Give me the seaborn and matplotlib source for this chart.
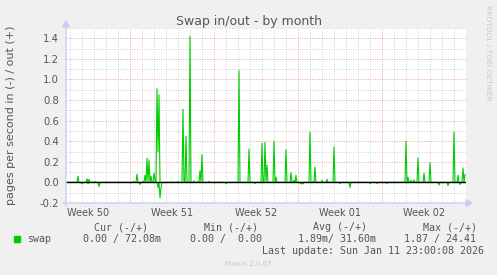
import numpy as np
import pandas as pd
import matplotlib
matplotlib.use("Agg")
import matplotlib.pyplot as plt
from matplotlib.patches import Rectangle
import seaborn as sns

# ---------------- data (hours since Mon 2025-12-15 00:00, 2-hour samples) ----
out_hours = [-104, -86, -82, -70, 8, 14, 26, 30, 34, 38, 42, 48, 50, 54, 56, 58,
             86, 96, 106, 112, 120, 128, 136, 140, 144, 158, 180, 218, 238,
             264, 270, 274, 288, 292, 312, 322, 328, 332, 360, 366, 370, 384,
             394, 408, 552, 556, 562, 568, 576, 588, 600, 648, 656, 666, 670]
out_values = [0.06, 0.035, 0.03, 0.01, 0.01, 0.08, 0.01, 0.07, 0.235, 0.22,
              0.06, 0.09, 0.02, 0.91, 0.30, 0.85,
              0.005, 0.01, 0.71, 0.45, 1.42, 0.015, 0.01, 0.115, 0.27, 0.01,
              0.005, 1.085, 0.325,
              0.38, 0.39, 0.17, 0.40, 0.05, 0.32, 0.095, 0.02, 0.07, 0.49, 0.01,
              0.15, 0.02, 0.03, 0.345, 0.40, 0.05, 0.02, 0.025, 0.24, 0.09, 0.19,
              0.49, 0.07, 0.14, 0.08]
in_hours = [-96, -84, -62, 20, 56, 60, 62, 192, 250, 342, 346, 420, 440, 480,
            494, 514, 618, 636, 660]
in_values = [0.015, 0.01, 0.04, 0.02, 0.05, 0.15, 0.05, 0.01, 0.01, 0.015,
             0.015, 0.01, 0.05, 0.01, 0.01, 0.01, 0.025, 0.03, 0.02]

week_labels = ["Week 50", "Week 51", "Week 52", "Week 01", "Week 02"]
week_starts = [-168, 0, 168, 336, 504]
y_ticks = [-0.2, 0.0, 0.2, 0.4, 0.6, 0.8, 1.0, 1.2, 1.4]
y_minor = [-0.1, 0.1, 0.3, 0.5, 0.7, 0.9, 1.1, 1.3, 1.5]

legend_headers = ["Cur (-/+)", "Min (-/+)", "Avg (-/+)", "Max (-/+)"]
legend_values = ["0.00 / 72.08m", "0.00 /  0.00", "1.89m/ 31.60m", "1.87 / 24.41"]

# ---------------- build series ----------------
x_start, x_end = -128, 672
sample_hours = np.arange(x_start, x_end, 2)
s_out = pd.Series(0.0, index=sample_hours)
s_out.loc[out_hours] = out_values
s_in = pd.Series(0.0, index=sample_hours)
s_in.loc[in_hours] = in_values
df = pd.concat([
    pd.DataFrame({"hours": sample_hours, "value": s_out.values, "dir": "out"}),
    pd.DataFrame({"hours": sample_hours, "value": -s_in.values, "dir": "in"}),
])

GREEN = "#00CC00"
TXT = "#555555"
W, H = 497, 275

sns.set_theme(style="white")
plt.rcParams["font.family"] = ["DejaVu Sans"]

fig = plt.figure(figsize=(W / 100, H / 100), dpi=100)
fig.patch.set_facecolor("#F0F0F0")
ax = fig.add_axes([66 / W, 72 / H, 400 / W, 175 / H])
ax.set_facecolor("white")

sns.lineplot(data=df, x="hours", y="value", hue="dir",
             palette={"out": GREEN, "in": GREEN}, estimator=None,
             legend=False, lw=0.8, ax=ax, zorder=3)
ax.axhline(0, color="black", lw=1.0, zorder=4)

ax.set_xlim(x_start, x_end)
ax.set_ylim(-0.2, 1.5)
ax.set_xticks([w for w in week_starts if x_start < w < x_end])
ax.set_xticks(list(range(-120, x_end, 24)), minor=True)
ax.set_xticklabels([])
ax.set_yticks(y_ticks)
ax.set_yticklabels([f"{v:.1f}" for v in y_ticks])
ax.set_yticks(y_minor, minor=True)
ax.tick_params(axis="both", which="both", length=0)
ax.tick_params(axis="y", labelsize=7.2, labelcolor=TXT, pad=5)
ax.grid(which="major", color="#F0A0A0", linestyle=(0, (1, 1.5)), lw=0.7)
ax.grid(which="minor", color="#D0D0D0", linestyle=(0, (1, 1.5)), lw=0.7)
ax.set_axisbelow(True)
ax.set_xlabel("")
ax.set_ylabel("")
for s in ax.spines.values():
    s.set_visible(False)

# week labels at mid-week
for lab, ws in zip(week_labels, week_starts):
    ax.text(ws + 84, -(216 - 203) / 175, lab, transform=ax.get_xaxis_transform(),
            ha="center", va="baseline", fontsize=7, color=TXT)

def fp(x, y):
    return (x / W, 1 - y / H)

# axes with arrows
AX = "#C8CFF4"
fig.add_artist(matplotlib.patches.FancyArrowPatch(
    fp(66, 206), fp(66, 20), transform=fig.transFigure, arrowstyle="-|>,head_length=4,head_width=2.5",
    color=AX, lw=1, shrinkA=0, shrinkB=0))
fig.add_artist(matplotlib.patches.FancyArrowPatch(
    fp(63, 203), fp(473, 203), transform=fig.transFigure, arrowstyle="-|>,head_length=4,head_width=2.5",
    color=AX, lw=1, shrinkA=0, shrinkB=0))

# titles
fig.text(*fp(249, 24.5), "Swap in/out - by month", ha="center", va="baseline",
         fontsize=9, color=TXT)
fig.text(*fp(11.5, 115.5), "pages per second in (-) / out (+)", rotation=90,
         ha="center", va="center", fontsize=8, color=TXT)
fig.text(*fp(488, 53), "RRDTOOL / TOBI OETIKER", rotation=270, ha="center",
         va="center", fontsize=5.4, color="#C8C8C8")

# legend
MONO = "DejaVu Sans Mono"
for x, t in zip([94.3, 204, 313.3, 422.7], legend_headers):
    fig.text(*fp(x, 230), t, ha="left", va="baseline", fontsize=7.2,
             family=MONO, color=TXT)
fig.add_artist(Rectangle(fp(14, 242), 6 / W, 6 / H, transform=fig.transFigure,
                         color=GREEN))
fig.text(*fp(26.7, 242), "swap", ha="left", va="baseline", fontsize=7.2,
         family=MONO, color=TXT)
for x, t in zip([83.3, 190, 297.7, 404.3], legend_values):
    fig.text(*fp(x, 242), t, ha="left", va="baseline", fontsize=7.2,
             family=MONO, color=TXT)
fig.text(*fp(261.7, 254), "Last update: Sun Jan 11 23:00:08 2026", ha="left",
         va="baseline", fontsize=7.2, family=MONO, color=TXT)
fig.text(*fp(248, 266.5), "Munin 2.0.67", ha="center", va="baseline",
         fontsize=5.1, color="#C8C8C8")

fig.savefig("out.png", dpi=100, facecolor=fig.get_facecolor())
